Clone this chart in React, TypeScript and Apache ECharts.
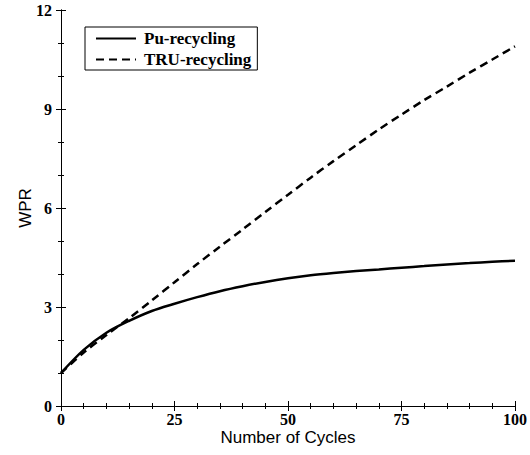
import React, { useEffect, useRef } from "react";
import * as echarts from "echarts";

const cycles = [0, 5, 10, 15, 20, 25, 30, 35, 40, 45, 50, 55, 60, 65, 70, 75, 80, 85, 90, 95, 100];
const puRecycling = [1.0, 1.7, 2.22, 2.58, 2.88, 3.1, 3.3, 3.48, 3.63, 3.76, 3.87, 3.96, 4.03, 4.09, 4.14, 4.19, 4.24, 4.29, 4.33, 4.37, 4.4];
const truRecycling = [1.0, 1.62, 2.15, 2.66, 3.2, 3.75, 4.3, 4.83, 5.35, 5.88, 6.4, 6.92, 7.42, 7.9, 8.38, 8.83, 9.27, 9.68, 10.1, 10.5, 10.9];
const seriesNames = ["Pu-recycling", "TRU-recycling"];
const xTitle = "Number of Cycles";
const yTitle = "WPR";

export default function App() {
  const ref = useRef<HTMLDivElement>(null);
  useEffect(() => {
    if (!ref.current) return;
    const chart = echarts.init(ref.current, undefined, { renderer: "svg" });
    const serif = "Liberation Serif";
    const sans = "Liberation Sans";
    const axisLine = { show: true, lineStyle: { color: "#000", width: 1 } };
    const baseX = {
      type: "value" as const,
      min: 0,
      max: 100,
      interval: 25,
      splitLine: { show: false },
      axisLine,
      axisTick: { show: true, inside: true, length: 5, lineStyle: { color: "#000" } },
      minorTick: { show: true, splitNumber: 5, length: 3, lineStyle: { color: "#000" } },
    };
    const baseY = {
      type: "value" as const,
      min: 0,
      max: 12,
      interval: 3,
      splitLine: { show: false },
      axisLine,
      axisTick: { show: true, inside: true, length: 5, lineStyle: { color: "#000" } },
      minorTick: { show: true, splitNumber: 3, length: 3, lineStyle: { color: "#000" } },
    };
    chart.setOption({
      animation: false,
      backgroundColor: "#fff",
      grid: { left: 61, right: 13, top: 10, bottom: 49 },
      legend: {
        left: 85,
        top: 27,
        orient: "vertical",
        data: seriesNames,
        borderColor: "#000",
        borderWidth: 1,
        borderRadius: 0,
        padding: [3, 6, 2, 10],
        itemWidth: 40,
        itemHeight: 12,
        itemGap: 4,
        itemStyle: { opacity: 0, borderWidth: 0 },
        textStyle: { fontFamily: serif, fontWeight: "bold", fontSize: 17, color: "#000", padding: [0, 0, 0, 3] },
      },
      xAxis: [
        {
          ...baseX,
          position: "bottom",
          name: xTitle,
          nameLocation: "middle",
          nameGap: 23,
          nameMoveOverlap: false,
          nameTextStyle: { fontFamily: sans, fontSize: 17, color: "#000" },
          axisLabel: { fontFamily: serif, fontWeight: "bold", fontSize: 16, color: "#000", margin: 5 },
        },
        { ...baseX, position: "top", axisLabel: { show: false } },
      ],
      yAxis: [
        {
          ...baseY,
          position: "left",
          name: yTitle,
          nameLocation: "middle",
          nameGap: 27,
          nameMoveOverlap: false,
          nameTextStyle: { fontFamily: sans, fontSize: 17, color: "#000" },
          axisLabel: { fontFamily: serif, fontWeight: "bold", fontSize: 16, color: "#000", margin: 9 },
        },
        { ...baseY, position: "right", axisLabel: { show: false } },
      ],
      series: [
        {
          name: seriesNames[0],
          type: "line",
          smooth: 0.3,
          symbol: "none",
          data: cycles.map((c, i) => [c, puRecycling[i]]),
          lineStyle: { color: "#000", width: 2.5, type: "solid" },
          itemStyle: { color: "#000" },
        },
        {
          name: seriesNames[1],
          type: "line",
          smooth: 0.3,
          symbol: "none",
          data: cycles.map((c, i) => [c, truRecycling[i]]),
          lineStyle: { color: "#000", width: 2.5, type: [8, 5] },
          itemStyle: { color: "#000" },
        },
      ],
    });
    return () => chart.dispose();
  }, []);
  return <div ref={ref} style={{ width: 530, height: 455, position: "absolute", left: 0, top: 0 }} />;
}
